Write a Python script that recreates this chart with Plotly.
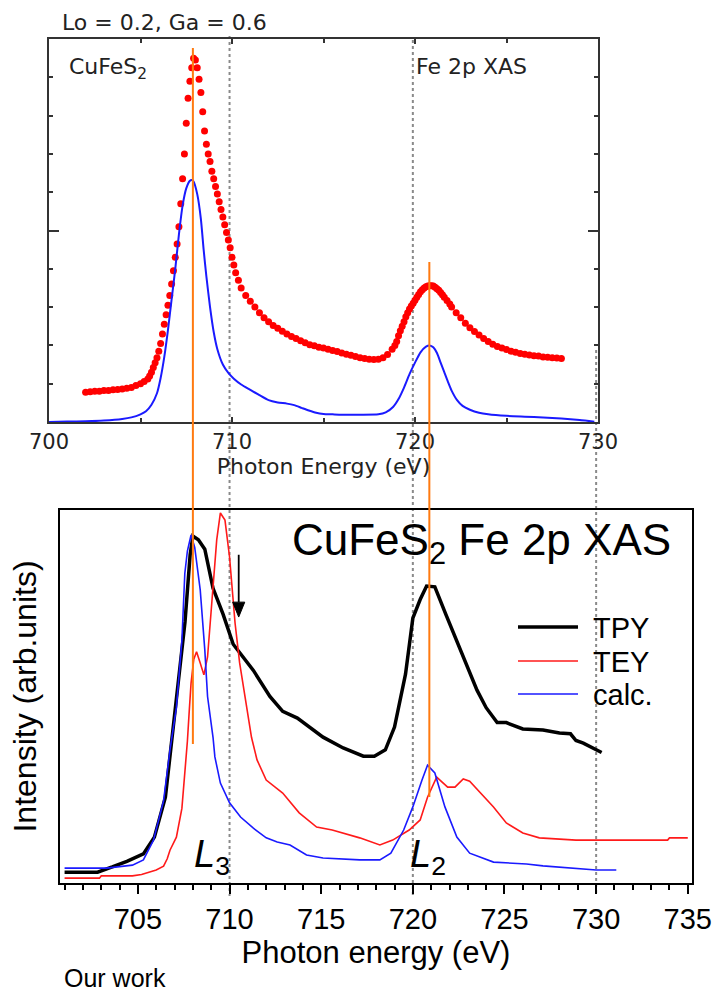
import plotly.graph_objects as go

W, H = 717, 992

# ---------------- data: top panel (Lo = 0.2, Ga = 0.6) ----------------
exp_top_x = [702.0, 702.25, 702.5, 702.75, 703.0, 703.25, 703.5, 703.75, 704.0, 704.25, 704.5, 704.75,
             705.0, 705.2, 705.4, 705.5, 705.6, 705.7, 705.8, 705.9, 706.0, 706.1, 706.2, 706.3, 706.4,
             706.5, 706.6, 706.7, 706.8, 706.9, 707.0, 707.1, 707.2, 707.3, 707.4, 707.5, 707.6, 707.7,
             707.8, 707.9, 708.0, 708.1, 708.2, 708.3, 708.4, 708.5, 708.6, 708.7, 708.8, 708.9, 709.0,
             709.1, 709.2, 709.3, 709.4, 709.5, 709.6, 709.7, 709.8, 709.9, 710.0, 710.1, 710.2, 710.35,
             710.5, 710.75, 711.0, 711.25, 711.5, 711.75, 712.0, 712.25, 712.5, 712.75, 713.0, 713.25,
             713.5, 713.75, 714.0, 714.25, 714.5, 714.75, 715.0, 715.25, 715.5, 715.75, 716.0, 716.25,
             716.5, 716.75, 717.0, 717.25, 717.5, 717.75, 718.0, 718.25, 718.5, 718.75, 718.9, 719.0,
             719.1, 719.2, 719.3, 719.4, 719.5, 719.6, 719.7, 719.8, 719.9, 720.0, 720.1, 720.2, 720.3,
             720.4, 720.5, 720.6, 720.7, 720.8, 720.9, 721.0, 721.1, 721.2, 721.3, 721.4, 721.5, 721.6,
             721.75, 721.9, 722.0, 722.25, 722.5, 722.75, 723.0, 723.25, 723.5, 723.75, 724.0, 724.25,
             724.5, 724.75, 725.0, 725.25, 725.5, 725.75, 726.0, 726.25, 726.5, 726.75, 727.0, 727.25,
             727.5, 727.75, 728.0]
exp_top_y = [0.78, 0.79, 0.80, 0.80, 0.82, 0.82, 0.84, 0.85, 0.86, 0.88, 0.90, 0.95,
             1.00, 1.06, 1.12, 1.20, 1.30, 1.42, 1.55, 1.68, 1.85, 2.05, 2.30, 2.55, 2.80,
             3.05, 3.30, 3.60, 3.95, 4.30, 4.65, 5.10, 5.70, 6.35, 7.00, 7.80, 8.45, 8.90,
             9.25, 9.50, 9.45, 9.25, 8.95, 8.60, 8.10, 7.60, 7.25, 7.00, 6.80, 6.55, 6.35,
             6.15, 5.95, 5.75, 5.55, 5.35, 5.15, 4.95, 4.75, 4.55, 4.30, 4.10, 3.90, 3.70,
             3.50, 3.30, 3.15, 3.00, 2.85, 2.72, 2.62, 2.52, 2.45, 2.37, 2.30, 2.23,
             2.18, 2.12, 2.07, 2.02, 1.99, 1.95, 1.93, 1.90, 1.87, 1.84, 1.80, 1.77,
             1.74, 1.71, 1.68, 1.66, 1.64, 1.63, 1.64, 1.68, 1.76, 1.90, 2.00, 2.10,
             2.25, 2.38, 2.50, 2.62, 2.75, 2.85, 2.95, 3.03, 3.10, 3.18, 3.26, 3.33, 3.40,
             3.45, 3.50, 3.53, 3.55, 3.56, 3.56, 3.55, 3.52, 3.48, 3.44, 3.38, 3.32, 3.26,
             3.17, 3.08, 3.00, 2.85, 2.72, 2.58, 2.46, 2.36, 2.27, 2.18, 2.10, 2.03,
             1.97, 1.93, 1.89, 1.85, 1.82, 1.79, 1.77, 1.75, 1.73, 1.72, 1.70, 1.69,
             1.68, 1.67, 1.66]

calc_top_x = [700.0, 701.0, 702.0, 703.0, 704.0, 704.5, 705.0, 705.3, 705.6, 705.9, 706.1, 706.3,
              706.5, 706.7, 706.9, 707.1, 707.3, 707.5, 707.7, 707.8, 707.9, 708.1, 708.3, 708.45,
              708.6, 708.8, 709.0, 709.2, 709.5, 709.8, 710.1, 710.5, 711.0, 711.5, 712.0, 712.5,
              713.0, 713.4, 713.8, 714.2, 714.6, 715.0, 715.5, 716.0, 717.0, 718.0, 718.4, 718.8,
              719.1, 719.4, 719.7, 720.0, 720.3, 720.6, 720.8, 721.0, 721.2, 721.4, 721.6, 721.8,
              722.0, 722.3, 722.6, 723.0, 723.5, 724.0, 725.0, 726.0, 727.0, 728.0, 729.0, 729.8]
calc_top_y = [0.00, 0.01, 0.02, 0.04, 0.08, 0.12, 0.20, 0.28, 0.45, 0.75, 1.15, 1.70,
              2.40, 3.20, 4.00, 4.90, 5.65, 6.10, 6.30, 6.32, 6.28, 5.95, 5.30, 4.50,
              3.80, 3.00, 2.35, 1.90, 1.50, 1.28, 1.13, 0.98, 0.84, 0.70, 0.57, 0.51,
              0.48, 0.44, 0.37, 0.30, 0.24, 0.21, 0.20, 0.19, 0.19, 0.20, 0.25, 0.39,
              0.60, 0.90, 1.25, 1.55, 1.82, 1.97, 2.00, 1.95, 1.80, 1.55, 1.30, 1.05,
              0.82, 0.57, 0.42, 0.32, 0.24, 0.20, 0.16, 0.14, 0.12, 0.09, 0.05, 0.01]

top_xticks = [700, 710, 720, 730]
top_xticklabels = ["700", "710", "720", "730"]

# ---------------- data: bottom panel (our work) ----------------
tpy_x = [701.0, 702.8, 703.6, 704.4, 705.3, 705.9, 706.5, 706.85, 707.1, 707.57, 707.85, 708.0,
         708.3, 708.65, 709.1, 709.65, 710.2, 711.3, 712.2, 712.9, 713.7, 714.4, 715.1, 716.2,
         717.3, 717.9, 718.5, 719.0, 719.3, 719.6, 720.0, 720.4, 720.75, 721.2, 721.8, 722.4,
         723.0, 723.5, 724.0, 724.6, 725.1, 726.0, 727.1, 728.0, 728.6, 728.9, 729.3, 730.3]
tpy_y = [2.9, 2.9, 4.3, 5.8, 7.8, 12.3, 23.0, 38.0, 50.0, 70.0, 88.0, 93.0,
         92.0, 89.5, 79.0, 72.0, 64.0, 57.0, 50.0, 46.0, 44.2, 41.7, 39.1, 36.2,
         34.0, 34.0, 35.7, 41.8, 49.0, 56.0, 71.0, 76.0, 79.6, 79.4, 72.0, 65.0,
         58.0, 51.7, 47.0, 43.0, 43.0, 41.3, 41.0, 40.2, 40.0, 38.2, 37.5, 35.0]

tey_x = [701.0, 702.9, 703.0, 704.7, 705.2, 705.5, 706.0, 706.4, 706.6, 706.75, 707.1, 707.4,
         707.56, 707.7, 707.8, 707.9, 708.05, 708.2, 708.4, 708.6, 708.8, 708.95, 709.1, 709.3,
         709.5, 709.75, 710.0, 710.3, 710.55, 710.9, 711.2, 711.5, 712.0, 712.9, 713.8, 714.75,
         715.6, 717.1, 718.2, 718.9, 719.8, 720.4, 720.8, 721.3, 721.9, 722.3, 722.75, 723.1,
         723.7, 724.4, 725.1, 726.0, 726.9, 728.9, 733.9, 734.0, 735.0]
tey_y = [1.3, 1.3, 1.9, 1.9, 2.3, 2.7, 3.5, 4.5, 6.5, 8.8, 12.3, 20.0,
         29.0, 38.0, 46.0, 53.6, 60.0, 62.0, 59.0, 55.8, 60.6, 70.0, 78.6, 92.0,
         99.2, 97.3, 87.4, 69.7, 59.0, 48.3, 39.0, 33.0, 27.6, 24.1, 18.8, 15.0,
         14.2, 12.1, 10.2, 11.5, 14.2, 16.9, 23.0, 28.4, 25.7, 25.7, 27.9, 27.3,
         24.1, 20.4, 16.1, 13.4, 12.1, 11.5, 11.5, 12.1, 12.1]

calc_x = [701.0, 703.3, 704.7, 705.3, 705.85, 706.4, 706.75, 707.1, 707.4, 707.56, 707.7, 707.9,
          708.1, 708.4, 708.65, 708.8, 709.1, 709.2, 709.5, 710.0, 710.6, 711.3, 712.0, 712.6,
          713.3, 714.2, 715.1, 717.1, 718.2, 718.8, 719.5, 720.0, 720.5, 720.8, 721.2, 721.75,
          722.4, 723.1, 724.4, 726.2, 727.1, 728.7, 730.0, 731.1]
calc_y = [4.0, 4.0, 4.8, 6.2, 11.5, 22.0, 35.7, 47.0, 65.0, 83.0, 89.0, 93.3,
          90.0, 78.6, 62.5, 50.0, 39.0, 33.8, 26.8, 21.5, 17.7, 14.7, 12.1, 11.0,
          10.2, 7.5, 6.7, 6.2, 6.2, 8.0, 14.2, 20.4, 27.6, 31.6, 29.5, 20.4,
          12.3, 8.0, 5.6, 5.1, 4.6, 4.0, 3.5, 3.5]

guide_lines = [710, 720, 730]          # grey dotted guides (eV)
peak_lines = [708.0, 720.9]            # orange peak markers (eV)
arrow_x, arrow_tip, arrow_tail = 710.5, 71.3, 88.0   # "shoulder" arrow (eV, intensity)


def px(p):
    return p / W


def py(p):
    return 1 - p / H


TOPFONT = "DejaVu Sans"
BOTFONT = "Arial, Liberation Sans, sans-serif"

series_style = {
    "TPY": dict(color="black", width=3.5),
    "TEY": dict(color="#ff1a1a", width=1.6),
    "calc.": dict(color="#1a1aff", width=1.6),
}

fig = go.Figure()

fig.add_trace(go.Scatter(x=exp_top_x, y=exp_top_y, mode="markers", xaxis="x", yaxis="y",
                         marker=dict(color="#ff0000", size=7, line=dict(width=0)),
                         showlegend=False, name="exp"))
fig.add_trace(go.Scatter(x=calc_top_x, y=calc_top_y, mode="lines", xaxis="x", yaxis="y",
                         line=dict(color="#1a1aff", width=2, shape="spline", smoothing=0.6),
                         showlegend=False, name="calc (top)"))

for name, xs, ys in [("TPY", tpy_x, tpy_y), ("TEY", tey_x, tey_y), ("calc.", calc_x, calc_y)]:
    fig.add_trace(go.Scatter(x=xs, y=ys, mode="lines", xaxis="x2", yaxis="y2",
                             line=series_style[name], name=name, showlegend=False))

shapes = []
# guide lines spanning both panels
guide_top = {710: 36, 720: 40, 730: 350}
for g in guide_lines:
    shapes.append(dict(type="line", xref="x2", yref="paper", x0=g, x1=g,
                       y0=py(guide_top[g]), y1=py(896), layer="below",
                       line=dict(color="#8a8a8a", width=2, dash="dot")))
peak_span = {708.0: (48, 744), 720.9: (262, 797)}
for p in peak_lines:
    a, b = peak_span[p]
    shapes.append(dict(type="line", xref="x2", yref="paper", x0=p, x1=p,
                       y0=py(a), y1=py(b), layer="above",
                       line=dict(color="#ff7a10", width=2)))

# arrow (shaft + head) marking the shoulder
head_len, head_half = 4.0, 0.33
shapes.append(dict(type="line", xref="x2", yref="y2", x0=arrow_x, x1=arrow_x,
                   y0=arrow_tail, y1=arrow_tip + head_len, line=dict(color="black", width=1.8)))
shapes.append(dict(type="path", xref="x2", yref="y2",
                   path=f"M {arrow_x - head_half} {arrow_tip + head_len} L {arrow_x + head_half} "
                        f"{arrow_tip + head_len} L {arrow_x} {arrow_tip} Z",
                   fillcolor="black", line=dict(color="black", width=1)))

# legend drawn by hand (tighter rows than plotly's legend)
annotations = []
legend_rows = [("TPY", 627), ("TEY", 661), ("calc.", 694)]
for name, yrow in legend_rows:
    shapes.append(dict(type="line", xref="paper", yref="paper", x0=px(518), x1=px(578),
                       y0=py(yrow), y1=py(yrow), line=series_style[name]))
    annotations.append(dict(text=name, xref="paper", yref="paper", x=px(591), y=py(yrow + 1),
                            xanchor="left", yanchor="middle", showarrow=False,
                            font=dict(family=BOTFONT, size=29, color="black")))

annotations += [
    dict(text="Lo = 0.2, Ga = 0.6", xref="paper", yref="paper", x=px(60), y=py(22),
         xanchor="left", yanchor="middle", showarrow=False,
         font=dict(family=TOPFONT, size=22, color="#222")),
    dict(text="CuFeS<sub>2</sub>", xref="paper", yref="paper", x=px(67), y=py(68),
         xanchor="left", yanchor="middle", showarrow=False,
         font=dict(family=TOPFONT, size=22, color="#222")),
    dict(text="Fe 2p XAS", xref="paper", yref="paper", x=px(414), y=py(67),
         xanchor="left", yanchor="middle", showarrow=False,
         font=dict(family=TOPFONT, size=22, color="#222")),
    dict(text="CuFeS<sub>2</sub> Fe 2p XAS", xref="paper", yref="paper", x=px(290), y=py(543),
         xanchor="left", yanchor="middle", showarrow=False,
         font=dict(family=BOTFONT, size=44, color="black")),
    dict(text="<i>L</i><sub>3</sub>", xref="paper", yref="paper", x=px(192), y=py(857),
         xanchor="left", yanchor="middle", showarrow=False,
         font=dict(family=BOTFONT, size=38, color="black")),
    dict(text="<i>L</i><sub>2</sub>", xref="paper", yref="paper", x=px(408), y=py(857),
         xanchor="left", yanchor="middle", showarrow=False,
         font=dict(family=BOTFONT, size=38, color="black")),
    dict(text="Our work", xref="paper", yref="paper", x=px(62), y=py(978),
         xanchor="left", yanchor="middle", showarrow=False,
         font=dict(family=BOTFONT, size=25, color="black")),
]

fig.update_layout(
    width=W, height=H,
    margin=dict(l=0, r=0, t=0, b=0, autoexpand=False),
    paper_bgcolor="white", plot_bgcolor="rgba(0,0,0,0)",
    shapes=shapes, annotations=annotations,
    showlegend=False,
    xaxis=dict(domain=[px(49), px(598)], range=[700, 730], anchor="y", automargin=False,
               showline=True, linecolor="#333", linewidth=2, mirror="ticks",
               ticks="inside", ticklen=5, tickcolor="#333", tickwidth=1.5,
               tickvals=top_xticks, ticktext=top_xticklabels,
               minor=dict(dtick=5, tick0=700, ticks="inside", ticklen=4, tickcolor="#333", tickwidth=1.5),
               tickfont=dict(family=TOPFONT, size=21, color="#222"),
               showgrid=False, zeroline=False,
               title=dict(text="Photon Energy (eV)", standoff=0,
                          font=dict(family=TOPFONT, size=22, color="#222"))),
    yaxis=dict(domain=[py(422), py(39)], range=[0, 10], anchor="x", automargin=False,
               showline=True, linecolor="#333", linewidth=2, mirror="ticks",
               ticks="inside", ticklen=10, tickcolor="#333", tickwidth=1.5,
               tickvals=[5], showticklabels=False,
               minor=dict(dtick=1, tick0=0, ticks="inside", ticklen=4, tickcolor="#333", tickwidth=1.5),
               showgrid=False, zeroline=False),
    xaxis2=dict(domain=[px(60), px(692)], range=[700.75, 735.23], anchor="y2", automargin=False,
                showline=True, linecolor="black", linewidth=1.8, mirror=True,
                ticks="outside", ticklen=9, tickwidth=1.8, tickcolor="black",
                tick0=700, dtick=5,
                minor=dict(dtick=1, tick0=700, ticks="outside", ticklen=5, tickwidth=1.5, tickcolor="black"),
                tickfont=dict(family=BOTFONT, size=29, color="black"),
                showgrid=False, zeroline=False,
                title=dict(text="Photon energy (eV)", standoff=3,
                           font=dict(family=BOTFONT, size=31, color="black"))),
    xaxis3=dict(overlaying="x2", range=[700.75, 735.23], anchor="y2", automargin=False,
                showline=False, ticks="inside", ticklen=8, tickwidth=1.8, tickcolor="black",
                tick0=700, dtick=5, showticklabels=False,
                minor=dict(dtick=1, tick0=700, ticks="inside", ticklen=4, tickwidth=1.5, tickcolor="black"),
                showgrid=False, zeroline=False),
    yaxis2=dict(domain=[py(883), py(510)], range=[0, 100], anchor="x2", automargin=False,
                showline=True, linecolor="black", linewidth=1.8, mirror=True,
                ticks="", showticklabels=False, showgrid=False, zeroline=False,
                title=dict(text="Intensity (arb.units)", standoff=12,
                           font=dict(family=BOTFONT, size=32, color="black"))),
)

fig.write_html("out.html")
